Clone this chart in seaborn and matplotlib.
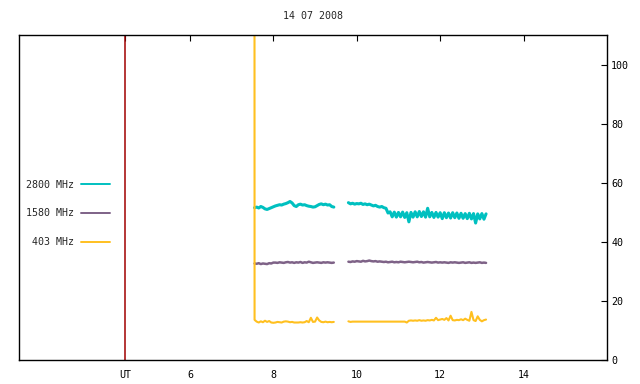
import numpy as np
import pandas as pd
import seaborn as sns
import matplotlib
matplotlib.use("Agg")
import matplotlib.pyplot as plt
from matplotlib.lines import Line2D

# radio flux record, 14 07 2008 (hours UT, sfu-like units)
title = "14 07 2008"
bands = ["2800 MHz", "1580 MHz", "403 MHz"]
colors = {"2800 MHz": "#00c0c0", "1580 MHz": "#7e6287", "403 MHz": "#ffc020"}
widths = {"2800 MHz": 2.2, "1580 MHz": 1.8, "403 MHz": 1.5}
ut_marker = 4.44
x_ticks = [ut_marker, 6, 8, 10, 12, 14]
x_ticklabels = ["UT", "6", "8", "10", "12", "14"]
y_ticks = [0, 20, 40, 60, 80, 100]

# segment 1 : 7.55 h onwards, one sample every 0.05 h
seg1_start = 7.55
f2800_a = [51.6, 51.8, 51.5, 52.0, 51.7, 51.2, 51.0, 51.3, 51.6, 51.9,
           52.2, 52.4, 52.6, 52.5, 52.8, 53.0, 53.3, 53.7, 53.2, 52.3,
           52.0, 52.6, 52.8, 52.5, 52.6, 52.3, 52.1, 52.0, 51.8, 51.9,
           52.3, 52.7, 52.9, 52.6, 52.8, 52.5, 52.6, 52.0, 51.8]
f1580_a = [32.7, 32.6, 32.8, 32.5, 32.7, 32.6, 32.5, 32.8, 32.7, 33.0,
           33.0, 32.9, 33.1, 33.0, 32.9, 33.1, 33.2, 33.0, 33.1, 32.9,
           33.1, 33.0, 33.2, 32.9, 33.1, 33.0, 33.3, 33.1, 32.9, 33.0,
           33.1, 33.0, 32.9, 33.1, 33.0, 33.1, 33.0, 32.9, 33.0]
f403_a = [13.6, 13.0, 12.7, 13.1, 12.8, 13.3, 12.9, 13.2, 12.7, 12.6,
          12.7, 12.9, 12.8, 12.7, 13.0, 13.1, 13.0, 12.8, 12.9, 12.7,
          12.7, 12.7, 12.8, 12.7, 12.8, 13.2, 12.8, 14.3, 12.9, 13.0,
          14.4, 13.4, 12.9, 12.8, 13.0, 12.8, 12.9, 12.8, 12.9]
# 403 MHz opens with an off-scale value
f403_spike_t = 7.548
f403_spike = 150.0

# segment 2 : 9.80 h onwards, one sample every 0.05 h
seg2_start = 9.80
f2800_b = [53.3, 52.9, 53.1, 52.8, 53.0, 52.9, 53.1, 52.7, 52.9, 52.6,
           52.8, 52.5, 52.2, 52.4, 52.0, 51.8, 52.0, 51.6, 51.4, 49.8,
           50.2, 48.5, 50.1, 48.4, 50.0, 48.5, 50.1, 48.3, 49.9, 46.8,
           50.0, 48.4, 50.2, 48.5, 50.3, 48.6, 50.2, 48.4, 51.4, 48.5,
           50.0, 48.3, 50.0, 48.4, 49.9, 47.9, 49.9, 48.2, 49.8, 48.1,
           49.9, 48.2, 49.8, 48.0, 49.7, 48.0, 49.6, 47.9, 49.7, 47.8,
           49.6, 46.4, 49.5, 47.8, 49.6, 47.7, 49.5]
f1580_b = [33.3, 33.2, 33.4, 33.3, 33.5, 33.4, 33.3, 33.6, 33.4, 33.5,
           33.7, 33.5, 33.4, 33.5, 33.3, 33.4, 33.3, 33.2, 33.3, 33.1,
           33.2, 33.3, 33.1, 33.2, 33.1, 33.3, 33.2, 33.1, 33.2, 33.3,
           33.2, 33.1, 33.2, 33.3, 33.1, 33.2, 33.0, 33.1, 33.2, 33.1,
           33.0, 33.1, 33.2, 33.0, 33.1, 33.0, 33.1, 33.0, 32.9, 33.1,
           33.0, 33.1, 33.0, 32.9, 33.0, 33.1, 32.9, 33.0, 33.1, 32.9,
           33.0, 32.9, 33.0, 33.1, 32.9, 33.0, 32.9]
f403_b = [13.1, 12.9, 13.0, 13.0, 13.0, 13.0, np.nan, np.nan, np.nan, np.nan,
          np.nan, np.nan, np.nan, np.nan, np.nan, np.nan, np.nan, np.nan, np.nan, np.nan,
          np.nan, np.nan, np.nan, np.nan, np.nan, np.nan, np.nan, 13.0, 12.7, 13.3,
          13.4, 13.3, 13.4, 13.3, 13.5, 13.3, 13.4, 13.3, 13.5, 13.4,
          13.6, 13.4, 14.3, 13.5, 13.7, 13.9, 13.6, 14.2, 13.4, 15.0,
          13.5, 13.4, 13.6, 13.5, 13.8, 13.5, 14.0, 13.6, 13.3, 16.3,
          13.5, 13.2, 14.8, 13.6, 13.1, 13.5, 13.7]


def build_frame():
	rows = []
	segs = [(seg1_start, {"2800 MHz": f2800_a, "1580 MHz": f1580_a, "403 MHz": f403_a}),
			(seg2_start, {"2800 MHz": f2800_b, "1580 MHz": f1580_b, "403 MHz": f403_b})]
	for k, (start, series) in enumerate(segs):
		for band, vals in series.items():
			t = start + 0.05 * np.arange(len(vals))
			for ti, v in zip(t, vals):
				rows.append([band, k, ti, v])
	rows.append(["403 MHz", 0, f403_spike_t, f403_spike])
	df = pd.DataFrame(rows, columns=["band", "seg", "t", "flux"])
	return df.dropna()


df = build_frame()

sns.set_theme(style="white")
plt.rcParams["font.family"] = ["DejaVu Sans Mono"]
plt.rcParams["font.size"] = 7.2

fig = plt.figure(figsize=(6.4, 3.84), dpi=100)
ax = fig.add_axes([18.5 / 640, 1 - 360 / 384, (607 - 18.5) / 640, (360 - 35.3) / 384])

ax.axvline(ut_marker, color="#a00000", lw=1.1, zorder=1)
sns.lineplot(data=df, x="t", y="flux", hue="band", size="band", units="seg",
			 estimator=None, palette=colors, sizes=widths, hue_order=bands,
			 size_order=bands, legend=False, ax=ax, zorder=2)

ax.set_xlim(1.89, 16.0)
ax.set_ylim(0, 110)
ax.set_xticks(x_ticks)
ax.set_xticklabels(x_ticklabels)
ax.set_yticks(y_ticks)
ax.yaxis.tick_right()
ax.tick_params(axis="both", direction="in", length=4, width=0.8, colors="black",
			   labelsize=7.2, top=True, right=True, left=False)
ax.tick_params(axis="x", pad=7)
ax.tick_params(axis="y", pad=3)
ax.set_xlabel("")
ax.set_ylabel("")
for s in ax.spines.values():
	s.set_color("black")
	s.set_linewidth(1.0)
ax.set_title(title, fontsize=7.2, pad=12, x=0.5)

handles = [Line2D([], [], color=colors[b], lw=1.4) for b in bands]
labels = ["2800 MHz", "1580 MHz", " 403 MHz"]
ax.legend(handles, labels, loc="upper left", bbox_to_anchor=(0.012, 0.555),
		  frameon=False, markerfirst=False, handlelength=2.9, handletextpad=0.7,
		  labelspacing=1.87, borderpad=0, borderaxespad=0, fontsize=7.2)

fig.savefig("out.png", dpi=100)
